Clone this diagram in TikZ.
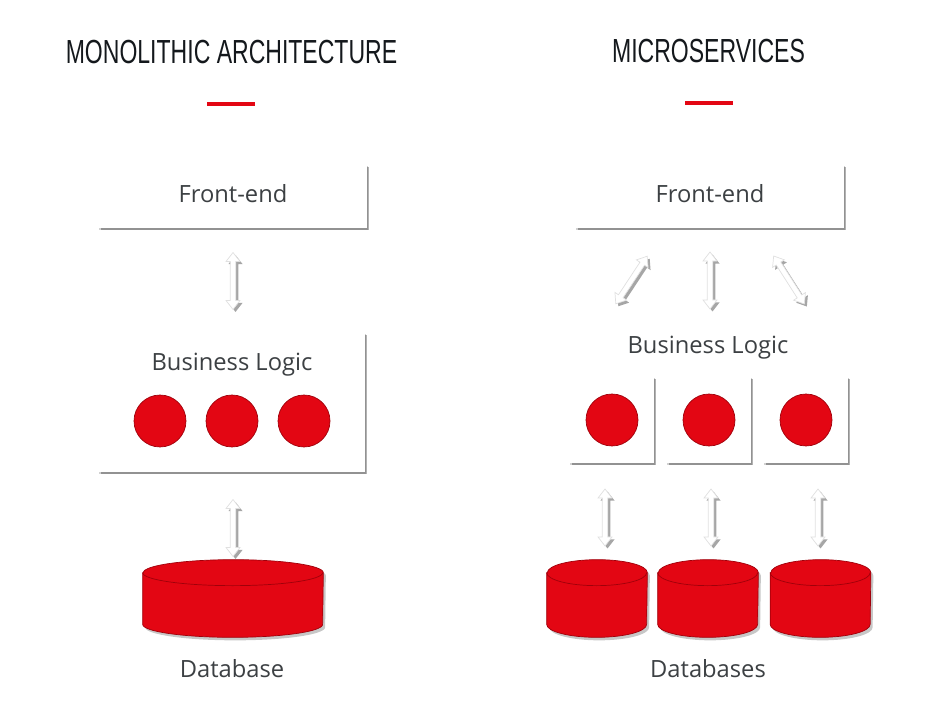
\documentclass[tikz,border=0pt]{standalone}
\usepackage{fontspec}
\setmainfont{Open Sans}
\newfontfamily\titlefont[FakeStretch=0.69]{Liberation Sans}
\usetikzlibrary{calc,positioning,shadows}
\definecolor{msred}{RGB}{227,6,19}
\definecolor{msdark}{RGB}{160,0,10}
\definecolor{mstext}{RGB}{60,64,67}
\definecolor{mstitle}{RGB}{20,24,28}
\newcommand{\linkarrow}[2]{%
\begin{scope}[shift={#1}, xshift=0.05cm, yshift=-0.05cm, rotate=#2]
\fill[black!35] (-0.57cm,0) -- (-0.39cm,0.14cm) -- (-0.39cm,0.055cm) -- (0.39cm,0.055cm) -- (0.39cm,0.14cm) -- (0.57cm,0) -- (0.39cm,-0.14cm) -- (0.39cm,-0.055cm) -- (-0.39cm,-0.055cm) -- (-0.39cm,-0.14cm) -- cycle;
\end{scope}
\begin{scope}[shift={#1}, rotate=#2]
\filldraw[fill=white, draw=black!12, thin] (-0.57cm,0) -- (-0.39cm,0.14cm) -- (-0.39cm,0.055cm) -- (0.39cm,0.055cm) -- (0.39cm,0.14cm) -- (0.57cm,0) -- (0.39cm,-0.14cm) -- (0.39cm,-0.055cm) -- (-0.39cm,-0.055cm) -- (-0.39cm,-0.14cm) -- cycle;
\end{scope}}
\newcommand{\dbcylinder}[2]{%
\fill[black!22] ([shift={(0.05cm,-0.06cm)}]#1.north west) -- ([shift={(0.05cm,-0.06cm)}]#1.south west) arc[start angle=180, end angle=360, x radius=#2, y radius=0.26cm] -- ([shift={(0.05cm,-0.06cm)}]#1.north east) arc[start angle=0, end angle=180, x radius=#2, y radius=0.26cm] -- cycle;
\filldraw[fill=msred, draw=msdark, thin] (#1.north west) -- (#1.south west) arc[start angle=180, end angle=360, x radius=#2, y radius=0.26cm] -- (#1.north east) arc[start angle=0, end angle=180, x radius=#2, y radius=0.26cm] -- cycle;
\draw[msdark, thin] (#1.north west) arc[start angle=180, end angle=360, x radius=#2, y radius=0.26cm];}

\begin{document}
\begin{tikzpicture}[x=0.02cm, y=-0.02cm,
  ttl/.style={font=\titlefont\fontsize{19}{22}\selectfont, text=mstitle, inner sep=0, anchor=base},
  lbl/.style={font=\fontsize{13.5}{16}\selectfont, text=mstext, inner sep=0, anchor=base},
  redbar/.style={rectangle, fill=msred, inner sep=0, minimum width=0.96cm, minimum height=0.08cm},
  box/.style={rectangle, fill=white, inner sep=0, text=mstext, font=\fontsize{13.5}{16}\selectfont,
    text height=0.36cm, text depth=0.13cm,
    general shadow={shadow xshift=0.01cm, shadow yshift=-0.03cm, shadow scale=1.006, fill=black, opacity=0.18},
    drop shadow={shadow xshift=0.035cm, shadow yshift=-0.045cm, fill=black, opacity=0.3}},
  dot/.style={circle, fill=msred, draw=msdark, thin, minimum size=1.04cm, inner sep=0},
  dbnode/.style={rectangle, inner sep=0, minimum height=1.02cm}]
\useasboundingbox (0,0) rectangle (950,702);
% monolithic
\node[ttl] (title1) at (231.5,64) {MONOLITHIC ARCHITECTURE};
\node[redbar] (bar1) at (231,104) {};
\node[box, minimum width=5.36cm, minimum height=1.26cm] (fe1) at (233,196.5) {Front-end};
\node[box, minimum width=5.32cm, minimum height=2.78cm] (bl1) at (232,402.5) {};
\node[lbl] (bltext1) at (232,371) {Business Logic};
\node[dot] (c1) at (160,421) {};
\node[dot] (c2) at (232,421) {};
\node[dot] (c3) at (304,421) {};
\node[dbnode, minimum width=3.6cm] (db1) at (233,598.5) {};
\node[lbl] (dbtext1) at (232,677) {Database};
\dbcylinder{db1}{1.8cm}
\linkarrow{(233,281)}{90}
\linkarrow{(233,528)}{90}
% microservices
\node[ttl] (title2) at (708.5,63) {MICROSERVICES};
\node[redbar] (bar2) at (708.5,103) {};
\node[box, minimum width=5.36cm, minimum height=1.26cm] (fe2) at (710,196.5) {Front-end};
\node[lbl] (bltext2) at (708,354) {Business Logic};
\foreach \i/\x in {1/612,2/709,3/806}{
  \node[box, minimum width=1.68cm, minimum height=1.72cm] (ms\i) at (\x,420) {};
  \node[dot] (md\i) at (ms\i.center) {};
}
\foreach \i/\x/\r in {1/597/1.0cm,2/708/1.0cm,3/820.5/1.0cm}{
  \node[dbnode, minimum width=2*\r] (db2\i) at (\x,598.5) {};
  \dbcylinder{db2\i}{\r}
}
\node[lbl] (dbtext2) at (708,677) {Databases};
\linkarrow{(631.5,280)}{56.6}
\linkarrow{(710,280.5)}{90}
\linkarrow{(789,280)}{-57.4}
\linkarrow{(605,517.5)}{90}
\linkarrow{(711,517.5)}{90}
\linkarrow{(818,517.5)}{90}
\end{tikzpicture}
\end{document}
